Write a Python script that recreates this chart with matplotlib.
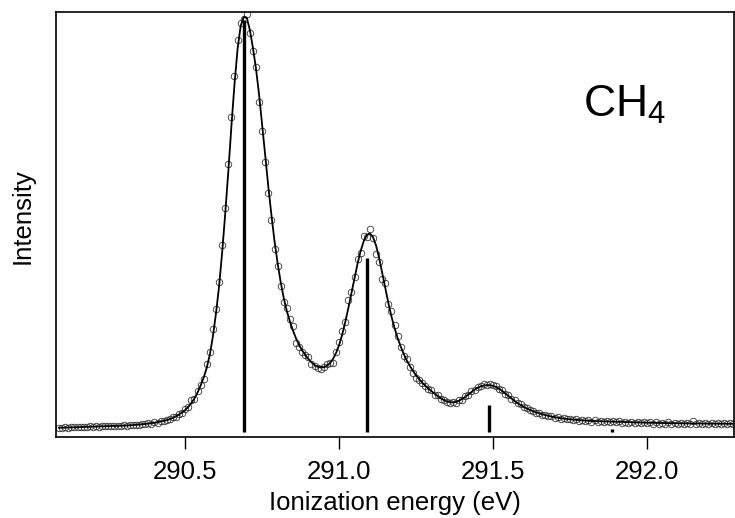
"""C 1s photoelectron spectrum of CH4 with vibrational fit and stick spectrum.

Output: out.png
"""
import matplotlib
matplotlib.use("Agg")
import matplotlib.pyplot as plt

plt.rcParams["font.family"] = ["Liberation Sans", "DejaVu Sans"]
plt.rcParams["mathtext.fontset"] = "custom"
plt.rcParams["mathtext.rm"] = "Liberation Sans"
plt.rcParams["mathtext.it"] = "Liberation Sans:italic"

# measured spectrum (eV, counts)
energy = [
    290.09, 290.10, 290.11, 290.12, 290.13, 290.14, 290.15, 290.16, 290.17, 290.18,
    290.19, 290.20, 290.21, 290.22, 290.23, 290.24, 290.25, 290.26, 290.27, 290.28,
    290.29, 290.30, 290.31, 290.32, 290.33, 290.34, 290.35, 290.36, 290.37, 290.38,
    290.39, 290.40, 290.41, 290.42, 290.43, 290.44, 290.45, 290.46, 290.47, 290.48,
    290.49, 290.50, 290.51, 290.52, 290.53, 290.54, 290.55, 290.56, 290.57, 290.58,
    290.59, 290.60, 290.61, 290.62, 290.63, 290.64, 290.65, 290.66, 290.67, 290.68,
    290.69, 290.70, 290.71, 290.72, 290.73, 290.74, 290.75, 290.76, 290.77, 290.78,
    290.79, 290.80, 290.81, 290.82, 290.83, 290.84, 290.85, 290.86, 290.87, 290.88,
    290.89, 290.90, 290.91, 290.92, 290.93, 290.94, 290.95, 290.96, 290.97, 290.98,
    290.99, 291.00, 291.01, 291.02, 291.03, 291.04, 291.05, 291.06, 291.07, 291.08,
    291.09, 291.10, 291.11, 291.12, 291.13, 291.14, 291.15, 291.16, 291.17, 291.18,
    291.19, 291.20, 291.21, 291.22, 291.23, 291.24, 291.25, 291.26, 291.27, 291.28,
    291.29, 291.30, 291.31, 291.32, 291.33, 291.34, 291.35, 291.36, 291.37, 291.38,
    291.39, 291.40, 291.41, 291.42, 291.43, 291.44, 291.45, 291.46, 291.47, 291.48,
    291.49, 291.50, 291.51, 291.52, 291.53, 291.54, 291.55, 291.56, 291.57, 291.58,
    291.59, 291.60, 291.61, 291.62, 291.63, 291.64, 291.65, 291.66, 291.67, 291.68,
    291.69, 291.70, 291.71, 291.72, 291.73, 291.74, 291.75, 291.76, 291.77, 291.78,
    291.79, 291.80, 291.81, 291.82, 291.83, 291.84, 291.85, 291.86, 291.87, 291.88,
    291.89, 291.90, 291.91, 291.92, 291.93, 291.94, 291.95, 291.96, 291.97, 291.98,
    291.99, 292.00, 292.01, 292.02, 292.03, 292.04, 292.05, 292.06, 292.07, 292.08,
    292.09, 292.10, 292.11, 292.12, 292.13, 292.14, 292.15, 292.16, 292.17, 292.18,
    292.19, 292.20, 292.21, 292.22, 292.23, 292.24, 292.25, 292.26, 292.27, 292.28,
]
counts = [
    44, 40, 47, 43, 49, 45, 52, 47, 53, 48,
    56, 51, 57, 52, 60, 55, 62, 56, 58, 64,
    59, 66, 61, 70, 66, 74, 70, 80, 76, 88,
    84, 95, 94, 109, 106, 124, 127, 146, 152, 182,
    192, 232, 248, 318, 330, 405, 470, 525, 680, 800,
    1030, 1230, 1500, 1870, 2240, 2680, 3150, 3560, 3920, 4090,
    4130, 4180, 3990, 3810, 3650, 3300, 3010, 2700, 2390, 2120,
    1830, 1660, 1460, 1300, 1235, 1130, 1060, 890, 850, 800,
    765, 745, 675, 660, 638, 628, 652, 675, 690, 692,
    800, 895, 1010, 1095, 1320, 1400, 1545, 1730, 1790, 1965,
    1950, 2030, 1940, 1775, 1700, 1525, 1490, 1275, 1210, 1065,
    955, 850, 760, 725, 650, 590, 540, 515, 488, 455,
    425, 415, 372, 365, 330, 318, 296, 285, 300, 292,
    318, 324, 360, 370, 408, 418, 452, 462, 475, 470,
    480, 468, 458, 425, 418, 380, 368, 330, 318, 285,
    276, 246, 240, 216, 214, 192, 190, 172, 174, 156,
    160, 143, 150, 132, 140, 126, 134, 118, 128, 113,
    124, 108, 119, 104, 116, 102, 112, 100, 113, 98,
    110, 96, 107, 93, 104, 92, 100, 88, 102, 87,
    98, 85, 96, 84, 97, 82, 94, 80, 95, 81,
    93, 79, 92, 80, 91, 78, 110, 82, 90, 77,
    91, 79, 88, 76, 90, 78, 88, 77, 86, 80,
]

# least-squares fit on the same energy grid
fit = [
    42, 43, 44, 45, 46, 47, 48, 49, 50, 51,
    52, 53, 54, 55, 56, 57, 58, 59, 60, 61,
    62, 63, 65, 67, 69, 71, 74, 77, 80, 84,
    88, 92, 98, 104, 111, 119, 129, 141, 156, 175,
    196, 220, 252, 290, 337, 395, 465, 545, 645, 775,
    960, 1190, 1460, 1800, 2190, 2610, 3060, 3480, 3830, 4060,
    4150, 4140, 4020, 3840, 3630, 3370, 3070, 2760, 2450, 2170,
    1910, 1690, 1500, 1340, 1210, 1105, 1015, 935, 870, 815,
    770, 730, 697, 670, 652, 645, 648, 662, 688, 730,
    790, 870, 975, 1100, 1240, 1390, 1540, 1685, 1810, 1910,
    1970, 1985, 1950, 1865, 1740, 1590, 1435, 1290, 1155, 1040,
    940, 855, 780, 715, 660, 610, 567, 528, 493, 463,
    435, 408, 383, 360, 338, 320, 306, 298, 296, 301,
    313, 330, 352, 376, 400, 423, 442, 456, 465, 469,
    468, 462, 450, 432, 410, 385, 360, 335, 311, 289,
    269, 251, 235, 221, 208, 196, 186, 177, 169, 161,
    154, 148, 143, 138, 134, 130, 127, 124, 121, 118,
    116, 114, 112, 110, 109, 108, 107, 106, 105, 104,
    103, 102, 101, 100, 99, 98, 97, 96, 95, 95,
    94, 93, 92, 92, 91, 90, 90, 89, 89, 88,
    88, 87, 87, 86, 86, 86, 85, 85, 85, 84,
    84, 84, 83, 83, 83, 83, 82, 82, 82, 82,
]

# vibrational progression (stick spectrum)
stick_energy = [290.692, 291.090, 291.488, 291.888]
stick_height = [4120, 1740, 270, 25]


def plot() -> None:
    fig = plt.figure(figsize=(7.35, 5.18), dpi=100)
    ax = fig.add_axes([0.0762, 0.1564, 0.9224, 0.8204])

    ax.plot(energy, counts, linestyle="none", marker="o", markersize=4.7,
            markerfacecolor="none", markeredgecolor="#333333", markeredgewidth=0.6,
            zorder=2)
    ax.plot(energy, fit, color="black", linewidth=1.3, zorder=3)
    ax.vlines(stick_energy, 0, stick_height, colors="black", linewidth=2.4,
              zorder=4)

    ax.set_xlim(290.080, 292.283)
    ax.set_ylim(-50, 4200)
    ax.set_xticks([290.5, 291.0, 291.5, 292.0])
    ax.set_xticklabels(["290.5", "291.0", "291.5", "292.0"])
    ax.set_yticks([])
    ax.tick_params(axis="x", direction="out", length=8.5, width=1.0,
                   labelsize=18.5, pad=8)
    for sp in ax.spines.values():
        sp.set_linewidth(1.2)

    ax.set_xlabel("Ionization energy (eV)", fontsize=18.5, labelpad=5)
    ax.set_ylabel("Intensity", fontsize=18.5)
    ax.yaxis.set_label_coords(-0.032, 0.52)
    ax.text(0.777, 0.753, "CH$_4$", transform=ax.transAxes, fontsize=32,
            ha="left", va="baseline")

    fig.savefig("out.png", dpi=100)
    plt.close(fig)


if __name__ == "__main__":
    plot()
